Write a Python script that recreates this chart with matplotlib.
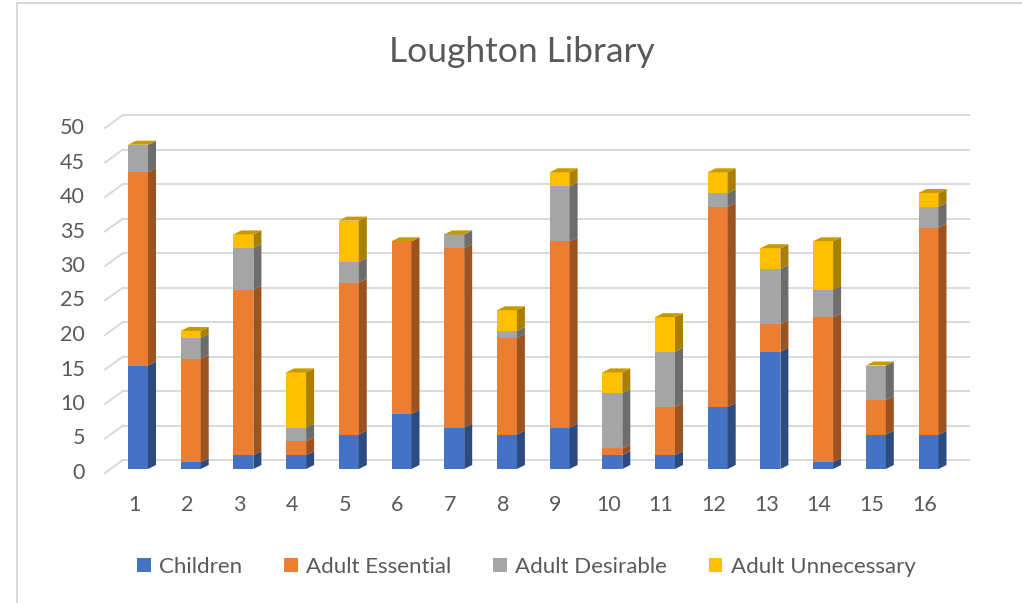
import numpy as np
import matplotlib.pyplot as plt
from matplotlib.patches import Patch, Polygon
from matplotlib.lines import Line2D
from matplotlib.colors import to_rgb

plt.rcParams['font.family'] = ['Lato', 'DejaVu Sans']

# data
categories = [str(i) for i in range(1, 17)]
children = [15, 1, 2, 2, 5, 8, 6, 5, 6, 2, 2, 9, 17, 1, 5, 5]
adult_essential = [28, 15, 24, 2, 22, 25, 26, 14, 27, 1, 7, 29, 4, 21, 5, 30]
adult_desirable = [4, 3, 6, 2, 3, 0, 2, 1, 8, 8, 8, 2, 8, 4, 5, 3]
adult_unnecessary = [0, 1, 2, 8, 6, 0, 0, 3, 2, 3, 5, 3, 3, 7, 0, 2]
series_names = ["Children", "Adult Essential", "Adult Desirable", "Adult Unnecessary"]
yticks = list(range(0, 51, 5))

colors = ["#4472C4", "#ED7D31", "#A5A5A5", "#FFC000"]
text_color = "#595959"
grid_color = "#D9D9D9"

# layout (pixels of a 1022x603 canvas)
W, H = 1022, 603
px_cat = 52.7        # px between categories
px_unit = 6.9        # px per value unit
x0_px, y0_px = 138, 469   # centre of first bar, baseline of bars

bar_w = 20 / px_cat
bar_dx, bar_dy = 8 / px_cat, 4 / px_unit
wall_front_x, wall_back_x = 1 + (105 - x0_px) / px_cat, 1 + (123 - x0_px) / px_cat
grid_right_x = 1 + (970 - x0_px) / px_cat
front_dy, back_dy = -4 / px_unit, 9 / px_unit


def shade(c, f):
    return tuple(v * f for v in to_rgb(c))


fig = plt.figure(figsize=(W / 100, H / 100), dpi=100)
ax = fig.add_axes([0, 0, 1, 1])
ax.set_xlim(1 - x0_px / px_cat, 1 + (W - x0_px) / px_cat)
ax.set_ylim((y0_px - H) / px_unit, y0_px / px_unit)
ax.axis("off")

# gridlines on the back wall + diagonal on the side wall
for v in yticks:
    ax.plot([wall_back_x, grid_right_x], [v + back_dy, v + back_dy],
            color=grid_color, lw=1.4, zorder=1, solid_capstyle="butt")
    ax.plot([wall_front_x, wall_back_x], [v + front_dy, v + back_dy],
            color=grid_color, lw=1.4, zorder=1)
    ax.text(1 + (85 - x0_px) / px_cat, v + front_dy, str(v), ha="right", va="center",
            fontsize=15.5, color=text_color)

x = np.arange(1, len(categories) + 1)
series = [children, adult_essential, adult_desirable, adult_unnecessary]
bottom = np.zeros(len(x))
for vals, c in zip(series, colors):
    vals = np.array(vals, dtype=float)
    ax.bar(x, vals, width=bar_w, bottom=bottom, color=c, zorder=3)
    for xi, b, h in zip(x, bottom, vals):
        if h <= 0:
            continue
        xr = xi + bar_w / 2
        side = [(xr, b), (xr + bar_dx, b + bar_dy), (xr + bar_dx, b + h + bar_dy), (xr, b + h)]
        ax.add_patch(Polygon(side, closed=True, facecolor=shade(c, 0.66), lw=0, zorder=3))
    bottom += vals

# top faces take the colour of the last series
for xi, t in zip(x, bottom):
    xl, xr = xi - bar_w / 2, xi + bar_w / 2
    top = [(xl, t), (xr, t), (xr + bar_dx, t + bar_dy), (xl + bar_dx, t + bar_dy)]
    ax.add_patch(Polygon(top, closed=True, facecolor="#C79A00", lw=0, zorder=4))

for xi, lab in zip(x, categories):
    ax.text(xi - 4 / px_cat, (y0_px - 505) / px_unit, lab, ha="center", va="center",
            fontsize=15.5, color=text_color)

fig.text(522 / W, 1 - 62 / H, "Loughton Library", ha="center", va="baseline",
         fontsize=25.5, color=text_color)

handles = [Patch(facecolor=c, edgecolor="none") for c in colors]
fig.legend(handles, series_names, loc="center", bbox_to_anchor=(526.5 / W, 1 - 567 / H),
           ncol=4, frameon=False, fontsize=16, labelcolor=text_color,
           handlelength=0.59, handleheight=0.59, handletextpad=0.38, columnspacing=1.9)

# chart border (left and top)
fig.add_artist(Line2D([17 / W, 17 / W], [0, 1 - 3 / H], color=grid_color, lw=1.5))
fig.add_artist(Line2D([17 / W, 1], [1 - 3 / H, 1 - 3 / H], color=grid_color, lw=1.5))

fig.savefig("out.png", dpi=100)
